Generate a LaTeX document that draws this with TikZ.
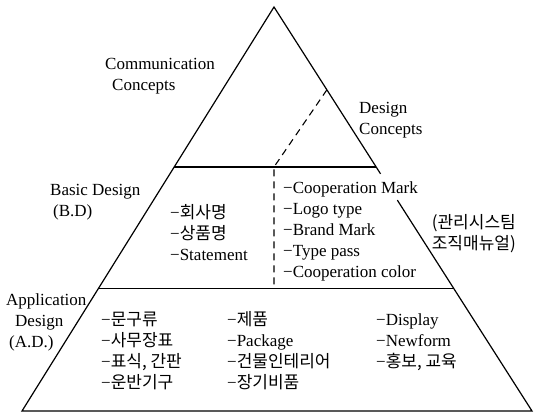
\documentclass[tikz,border=0pt]{standalone}
\usepackage{fontspec}
\setmainfont{Liberation Serif}
\newfontfamily\kor[Scale=1.0]{Noto Sans CJK KR}
\usetikzlibrary{calc}

\begin{document}
\begin{tikzpicture}[
    x=1pt, y=-1pt,
    every node/.style={font=\fontsize{17}{21}\selectfont, inner sep=0pt},
    edge/.style={line width=1.2pt, line join=miter},
    divider/.style={line width=1.1pt, dash pattern=on 7pt off 5pt},
    items/.style={align=left, anchor=base west}
]
\useasboundingbox (0,0) rectangle (539,412);

% Pyramid corners
\coordinate (apex) at (274,7);
\coordinate (bl) at (22,411);
\coordinate (br) at (532,411);

% Level lines and the break in the right side
\coordinate (l1w) at ($(apex)!0.396!(bl)$);
\coordinate (l1e) at ($(apex)!0.396!(br)$);
\coordinate (l2w) at ($(apex)!0.697!(bl)$);
\coordinate (l2e) at ($(apex)!0.697!(br)$);
\coordinate (gapn) at ($(apex)!0.413!(br)$);
\coordinate (gaps) at ($(apex)!0.478!(br)$);
\coordinate (dtop) at ($(apex)!0.205!(br)$);

% Outline
\draw[edge] (gaps) -- (br) -- (bl) -- (apex) -- (gapn);
\draw[edge] (l1w) -- (l1e);
\draw[edge] (l2w) -- (l2e);

% Split between concepts
\draw[divider] (dtop) -- (apex |- l1w) -- (apex |- l2w);

% Level titles
\node[items] (comm) at (105,91) {Communication\\\hspace{7pt}Concepts};
\node[items] (dcon) at (359,135) {Design\\Concepts};
\node[items] (bd) at (50,216) {Basic Design\\\hspace{3pt}(B.D)};
\node[items] (ad) at (6,347) {Application\\\hspace{9pt}Design\\\hspace{3pt}(A.D.)};

% Basic design items
\node[items] (bdl) at (170,260) {−{\kor 회사명}\\−{\kor 상품명}\\−Statement};
\node[items] (bdr) at (283,277) {−Cooperation Mark\\−Logo type\\−Brand Mark\\−Type pass\\−Cooperation color};
\node[align=right, anchor=base east] (mgmt) at (516,249) {{\kor (관리시스팀}\\{\kor 조직매뉴얼)}};

% Application design items
\node[items] (ad1) at (101,388) {−{\kor 문구류}\\−{\kor 사무장표}\\−{\kor 표식, 간판}\\−{\kor 운반기구}};
\node[items] (ad2) at (227,388) {−{\kor 제품}\\−Package\\−{\kor 건물인테리어}\\−{\kor 장기비품}};
\node[items] (ad3) at (376,367) {−Display\\−Newform\\−{\kor 홍보, 교육}};

\end{tikzpicture}
\end{document}
